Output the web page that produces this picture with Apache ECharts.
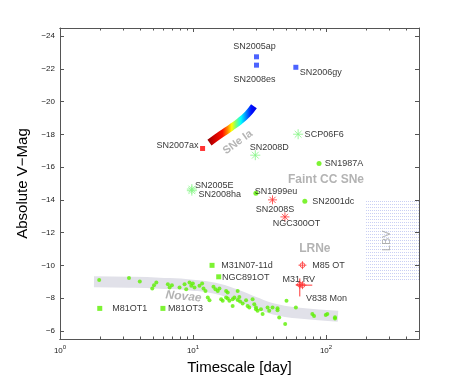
<!DOCTYPE html>
<html>
<head>
<meta charset="utf-8">
<script src="https://cdn.jsdelivr.net/npm/echarts@6/dist/echarts.min.js"></script>
<style>
html, body { margin: 0; padding: 0; background: #fff; }
#chart { width: 463px; height: 382px; }
</style>
</head>
<body>
<div id="chart"></div>
<script>
// tick values
var xMajor = [1, 10, 100];
var xMinor = [2, 3, 4, 5, 6, 7, 8, 9, 20, 30, 40, 50, 60, 70, 80, 90, 200, 300, 400];
var yTicks = [-24, -22, -20, -18, -16, -14, -12, -10, -8, -6];

// superluminous SNe (blue squares)
var blueNames = ['SN2005ap', 'SN2008es', 'SN2006gy'];
var blueX = [30, 30, 59.3];
var blueY = [-22.74, -22.23, -22.1];

// SN2007ax (red square)
var redSqNames = ['SN2007ax'];
var redSqX = [11.8];
var redSqY = [-17.14];

// green asterisks
var gStarNames = ['SN2008D', 'SCP06F6', 'SN2005E', 'SN2008ha'];
var gStarX = [29.4, 61.7, 9.8, 9.8];
var gStarY = [-16.73, -18.01, -14.66, -14.56];

// green dots (core collapse)
var gDotNames = ['SN1987A', 'SN1999eu', 'SN2001dc'];
var gDotX = [88.6, 29.7, 69.3];
var gDotY = [-16.22, -14.41, -13.92];

// red asterisks
var rStarNames = ['SN2008S', 'NGC300OT'];
var rStarX = [39.6, 49.1];
var rStarY = [-14.0, -12.96];

// green squares
var gSqNames = ['M31N07-11d', 'NGC891OT', 'M81OT1', 'M81OT3'];
var gSqX = [13.9, 15.6, 1.99, 5.94];
var gSqY = [-10.0, -9.3, -7.37, -7.37];

// luminous red novae
var lrnNames = ['M85 OT', 'M31 RV', 'V838 Mon'];
var lrnX = [66.5, 63.5, 66.5];
var lrnY = [-10.01, -8.82, -8.79];
var rvErrY = [-9.2, -8.1];
var v838ErrX = [59.3, 78.8];

// SNe Ia band
var iaX = [13.3, 16.3, 19.3, 22.3, 25.7, 28.7];
var iaY = [-17.5, -18.01, -18.42, -18.79, -19.24, -19.72];

// novae band
var bandX = [1.8, 3.34, 5.61, 9.91, 14.5, 20.5, 28.9, 40.8, 62.8, 123];
var bandY = [-9.0, -8.97, -8.91, -8.79, -8.61, -8.24, -7.75, -7.32, -7.08, -6.89];

// novae
var novaeX = [1.97, 3.30, 3.98, 4.94, 5.09, 5.30, 6.47, 6.67, 6.94, 7.92, 8.64, 8.89,
  9.41, 9.70, 9.97, 10.26, 11.18, 11.71, 11.99, 12.41, 12.91, 13.30, 14.25, 14.75,
  15.35, 15.80, 16.27, 16.72, 17.73, 17.73, 18.23, 18.23, 18.77, 19.86, 19.86, 20.46,
  21.66, 21.66, 22.30, 22.58, 23.61, 25.05, 25.72, 26.49, 28.05, 28.89, 29.75, 30.58,
  32.42, 33.36, 36.35, 37.41, 39.62, 43.19, 44.46, 49.30, 50.44, 59.31, 78.93, 81.28,
  99.5, 102.3, 116.8, 116.8, 43.19, 29.75];
var novaeY = [-9.11, -9.22, -9.02, -8.59, -8.79, -8.95, -8.85, -8.65, -8.79, -8.65, -8.85, -8.54,
  -8.95, -8.75, -8.89, -8.65, -8.75, -8.89, -8.59, -8.44, -8.04, -7.87, -8.69, -8.54,
  -8.44, -8.59, -7.93, -7.83, -8.44, -8.04, -8.34, -7.98, -7.83, -7.52, -7.93, -8.04,
  -7.89, -8.44, -8.07, -7.79, -7.67, -7.87, -7.52, -7.43, -7.93, -7.63, -7.43, -7.22,
  -7.32, -7.02, -7.43, -7.22, -7.43, -7.38, -6.82, -6.41, -7.83, -7.43, -7.02, -6.91,
  -6.96, -7.02, -6.75, -6.83, -7.26, -7.32];

// LBV region
var lbvX = [200, 500];
var lbvY = [-14, -9];

// class annotations
var noteNames = ['SNe Ia', 'Faint CC SNe', 'LRNe', 'Novae', 'LBV'];
var noteX = [21.7, 100, 82.4, 8.49, 288];
var noteY = [-17.52, -15.26, -10.99, -8.09, -11.5];

// label offsets (px from marker centre)
var labelOffset = {
  'SN2005ap': [-2, -10], 'SN2008es': [-2, 14], 'SN2006gy': [25, 5],
  'SN2007ax': [-25, -3], 'SN2008D': [14, -8], 'SCP06F6': [26, 0],
  'SN2005E': [22.5, -4], 'SN2008ha': [28, 3.5], 'SN1987A': [25, 0],
  'SN1999eu': [20, -1.5], 'SN2001dc': [28.5, 0], 'SN2008S': [2.5, 10],
  'NGC300OT': [11.5, 7], 'M31N07-11d': [35, 0.5], 'NGC891OT': [27, 0.5],
  'M81OT1': [30, 0], 'M81OT3': [22.5, 0], 'M85 OT': [26, 0],
  'M31 RV': [-1, -5], 'V838 Mon': [24, 13]
};
var noteStyle = {
  'SNe Ia': { rotate: 36, fontSize: 11 },
  'Faint CC SNe': { fontSize: 12 },
  'LRNe': { fontSize: 12 },
  'Novae': { fontSize: 12, fontStyle: 'italic', rotate: -5 },
  'LBV': { fontSize: 11, fontWeight: 'normal', rotate: 90 }
};

var FONT = 'Liberation Sans, Arial, Helvetica, sans-serif';
var AXIS_COLOR = '#555';
var starPath = 'path://M5 0V10M0 5H10M1.6 1.6L8.4 8.4M8.4 1.6L1.6 8.4';
var oplusPath = 'path://M2 5A3 3 0 1 0 8 5A3 3 0 1 0 2 5ZM5 0V10M0 5H10';

function zip(xs, ys) {
  return xs.map(function (x, i) { return [x, ys[i]]; });
}

function named(names, xs, ys) {
  return names.map(function (n, i) {
    return { name: n, value: [xs[i], ys[i]], label: { offset: labelOffset[n] || [0, 0] } };
  });
}

var pointLabel = {
  show: true,
  position: 'inside',
  formatter: '{b}',
  color: '#000',
  fontSize: 9,
  fontFamily: FONT
};

// dotted pattern for the LBV box
var dots = document.createElement('canvas');
dots.width = 2;
dots.height = 3;
var dctx = dots.getContext('2d');
dctx.fillStyle = '#c9cff4';
dctx.fillRect(0, 0, 1, 1);

function logAxis(pos, ticks, withLabels) {
  return {
    type: 'log',
    logBase: 10,
    min: 1,
    max: 500,
    position: pos,
    axisLine: { show: true, onZero: false, lineStyle: { color: AXIS_COLOR, width: 1 } },
    axisTick: { show: true, inside: true, length: ticks === xMajor ? 4 : 2.5, customValues: ticks, lineStyle: { color: AXIS_COLOR } },
    axisLabel: withLabels ? {
      show: true,
      customValues: xMajor,
      margin: 5,
      formatter: function (v) {
        return '{b|10}{e|' + Math.round(Math.log10(v)) + '}';
      },
      rich: {
        b: { fontSize: 8, fontFamily: FONT, color: '#222', verticalAlign: 'bottom' },
        e: { fontSize: 6, fontFamily: FONT, color: '#222', verticalAlign: 'bottom', padding: [0, 0, 5, 0] }
      }
    } : { show: false },
    splitLine: { show: false },
    minorTick: { show: false }
  };
}

function magAxis(pos, withLabels) {
  return {
    type: 'value',
    min: -24.5,
    max: -5.5,
    inverse: true,
    position: pos,
    axisLine: { show: true, onZero: false, lineStyle: { color: AXIS_COLOR, width: 1 } },
    axisTick: { show: true, inside: true, length: 4, customValues: yTicks, lineStyle: { color: AXIS_COLOR } },
    axisLabel: withLabels ? {
      show: true,
      customValues: yTicks,
      margin: 5,
      fontSize: 8,
      fontFamily: FONT,
      color: '#222',
      formatter: function (v) { return String(v).replace('-', '\u2212'); }
    } : { show: false },
    splitLine: { show: false }
  };
}

var xBottom = logAxis('bottom', xMajor, true);
xBottom.name = 'Timescale [day]';
xBottom.nameLocation = 'middle';
xBottom.nameGap = 13;
xBottom.nameTextStyle = { fontSize: 15, fontFamily: FONT, color: '#000', verticalAlign: 'top' };

var yLeft = magAxis('left', true);
yLeft.name = 'Absolute V\u2212Mag';
yLeft.nameLocation = 'middle';
yLeft.nameGap = 19;
yLeft.nameTextStyle = { fontSize: 15, fontFamily: FONT, color: '#000' };

var chart = echarts.init(document.getElementById('chart'));

var option = {
  animation: false,
  backgroundColor: '#fff',
  grid: { left: 60, right: 44, top: 28, bottom: 43, containLabel: false },
  xAxis: [
    xBottom,
    logAxis('bottom', xMinor, false),
    logAxis('top', xMajor, false),
    logAxis('top', xMinor, false)
  ],
  yAxis: [
    yLeft,
    magAxis('right', false)
  ],
  series: [
    {
      // LBV box
      type: 'scatter',
      data: [],
      silent: true,
      markArea: {
        silent: true,
        itemStyle: { color: { image: dots, repeat: 'repeat' } },
        data: [[{ coord: [lbvX[0], lbvY[0]] }, { coord: [lbvX[1], lbvY[1]] }]]
      },
      z: 1
    },
    {
      // novae band
      type: 'line',
      data: zip(bandX, bandY),
      smooth: true,
      symbol: 'none',
      silent: true,
      lineStyle: { color: '#e1e1e9', width: 11, cap: 'butt' },
      z: 2
    },
    {
      // SNe Ia band
      type: 'line',
      data: zip(iaX, iaY),
      smooth: true,
      symbol: 'none',
      silent: true,
      lineStyle: {
        width: 7,
        cap: 'butt',
        color: {
          type: 'linear', x: 0, y: 0, x2: 1, y2: 0,
          colorStops: [
            { offset: 0, color: '#7a0000' },
            { offset: 0.14, color: '#c80000' },
            { offset: 0.32, color: '#ff1000' },
            { offset: 0.42, color: '#ff8800' },
            { offset: 0.5, color: '#ffff00' },
            { offset: 0.58, color: '#80ff70' },
            { offset: 0.68, color: '#00ffff' },
            { offset: 0.78, color: '#0088ff' },
            { offset: 0.88, color: '#0010ff' },
            { offset: 1, color: '#0000e0' }
          ]
        }
      },
      z: 3
    },
    {
      // novae
      type: 'scatter',
      data: zip(novaeX, novaeY),
      symbol: 'circle',
      symbolSize: 4,
      itemStyle: { color: '#5cf000' },
      z: 4
    },
    {
      // M31 RV vertical error bar
      type: 'line',
      data: [[lrnX[1], rvErrY[0]], [lrnX[1], rvErrY[1]]],
      symbol: 'none',
      lineStyle: { color: '#ff3535', width: 1 },
      z: 5
    },
    {
      // V838 Mon horizontal error bar
      type: 'line',
      data: [[v838ErrX[0], lrnY[2]], [v838ErrX[1], lrnY[2]]],
      symbol: 'none',
      lineStyle: { color: '#ff3535', width: 1 },
      z: 5
    },
    {
      type: 'scatter',
      data: named(blueNames, blueX, blueY),
      symbol: 'rect',
      symbolSize: 5,
      itemStyle: { color: '#1f3cff' },
      label: pointLabel,
      z: 6
    },
    {
      type: 'scatter',
      data: named(redSqNames, redSqX, redSqY),
      symbol: 'rect',
      symbolSize: 5,
      itemStyle: { color: '#ff0000' },
      label: pointLabel,
      z: 6
    },
    {
      type: 'scatter',
      data: named(gStarNames, gStarX, gStarY),
      symbol: starPath,
      symbolSize: 10,
      itemStyle: { color: 'none', borderColor: '#86f586', borderWidth: 1 },
      label: pointLabel,
      z: 6
    },
    {
      type: 'scatter',
      data: named(gDotNames, gDotX, gDotY),
      symbol: 'circle',
      symbolSize: 5,
      itemStyle: { color: '#5cf000' },
      label: pointLabel,
      z: 6
    },
    {
      type: 'scatter',
      data: named(rStarNames, rStarX, rStarY),
      symbol: starPath,
      symbolSize: 9,
      itemStyle: { color: 'none', borderColor: '#ff3535', borderWidth: 1 },
      label: pointLabel,
      z: 6
    },
    {
      type: 'scatter',
      data: named(gSqNames, gSqX, gSqY),
      symbol: 'rect',
      symbolSize: 5,
      itemStyle: { color: '#5cf000' },
      label: pointLabel,
      z: 6
    },
    {
      type: 'scatter',
      data: named(lrnNames, lrnX, lrnY),
      symbol: oplusPath,
      symbolSize: 8,
      itemStyle: { color: 'none', borderColor: '#ff3535', borderWidth: 1 },
      label: pointLabel,
      z: 6
    },
    {
      // class annotations
      type: 'scatter',
      silent: true,
      symbolSize: 0,
      data: noteNames.map(function (n, i) {
        var s = noteStyle[n];
        return {
          name: n,
          value: [noteX[i], noteY[i]],
          label: {
            rotate: s.rotate || 0,
            fontSize: s.fontSize,
            fontStyle: s.fontStyle || 'normal',
            fontWeight: s.fontWeight || 'bold'
          }
        };
      }),
      label: {
        show: true,
        position: 'inside',
        formatter: '{b}',
        color: '#a0a0a0',
        fontFamily: FONT
      },
      z: 7
    }
  ]
};

chart.setOption(option);
</script>
</body>
</html>
